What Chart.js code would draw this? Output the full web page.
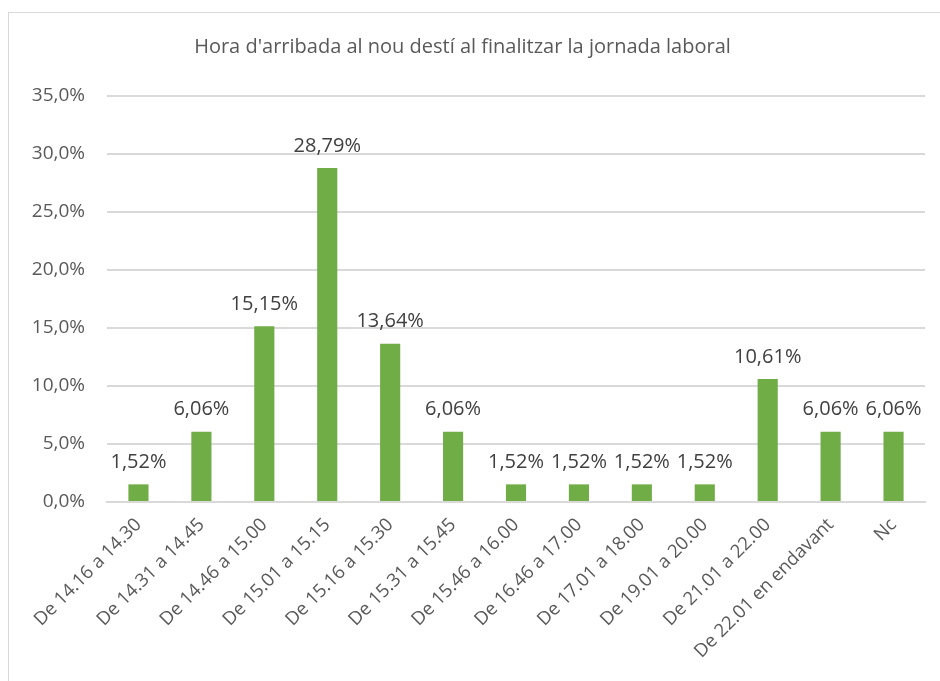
<!DOCTYPE html>
<html>
<head>
<meta charset="utf-8">
<script src="https://cdn.jsdelivr.net/npm/chart.js@4"></script>
<style>
  html, body { margin: 0; padding: 0; background: #fff; overflow: hidden; }
  #frame { position: absolute; left: 8px; top: 12px; width: 1000px; height: 800px; border: 1px solid #d9d9d9; }
  #wrap { position: absolute; left: 0; top: 0; width: 940px; height: 681px; }
</style>
</head>
<body>
<div id="frame"></div>
<div id="wrap"><canvas id="grafic"></canvas></div>
<script>
// Dades
const categories = ['De 14.16 a 14.30', 'De 14.31 a 14.45', 'De 14.46 a 15.00', 'De 15.01 a 15.15',
    'De 15.16 a 15.30', 'De 15.31 a 15.45', 'De 15.46 a 16.00', 'De 16.46 a 17.00', 'De 17.01 a 18.00',
    'De 19.01 a 20.00', 'De 21.01 a 22.00', 'De 22.01 en endavant', 'Nc'];
const percentatges = [1.52, 6.06, 15.15, 28.79, 13.64, 6.06, 1.52, 1.52, 1.52, 1.52, 10.61, 6.06, 6.06];
const titol = "Hora d'arribada al nou destí al finalitzar la jornada laboral";

const FONT = "'Open Sans', sans-serif";
const GRIS = '#595959';

// etiquetes de dades a sobre de cada barra
const etiquetesBarres = {
    id: 'etiquetesBarres',
    afterDatasetsDraw(chart) {
        const ctx = chart.ctx;
        const meta = chart.getDatasetMeta(0);
        ctx.save();
        ctx.font = '20px ' + FONT;
        ctx.fillStyle = '#404040';
        ctx.textAlign = 'center';
        ctx.textBaseline = 'bottom';
        meta.data.forEach(function (bar, i) {
            const txt = percentatges[i].toFixed(2).replace('.', ',') + '%';
            ctx.fillText(txt, bar.x, bar.y - 12);
        });
        ctx.restore();
    }
};

const ctx = document.getElementById('grafic').getContext('2d');
new Chart(ctx, {
    type: 'bar',
    data: {
        labels: categories,
        datasets: [{
            data: percentatges,
            backgroundColor: '#70ad47',
            categoryPercentage: 1,
            barPercentage: 0.32
        }]
    },
    options: {
        responsive: true,
        maintainAspectRatio: false,
        animation: false,
        layout: { padding: { left: 0, right: 15, top: 0, bottom: 0 } },
        plugins: {
            legend: { display: false },
            tooltip: { enabled: false },
            title: {
                display: true,
                text: titol,
                color: GRIS,
                font: { family: FONT, size: 20, weight: 'normal' },
                padding: { top: 35, bottom: 37 }
            }
        },
        scales: {
            x: {
                grid: { display: false },
                border: { display: true, color: '#d9d9d9', width: 2 },
                ticks: {
                    color: GRIS,
                    font: { family: FONT, size: 18.5 },
                    minRotation: 45,
                    maxRotation: 45,
                    autoSkip: false,
                    padding: 4
                },
                afterFit(scale) { scale.height = 179; }
            },
            y: {
                min: 0,
                max: 35,
                grid: { color: '#d9d9d9', lineWidth: 2, drawTicks: false },
                border: { display: false },
                ticks: {
                    stepSize: 5,
                    color: GRIS,
                    font: { family: FONT, size: 19 },
                    padding: 22,
                    callback: function (v) { return v.toFixed(1).replace('.', ',') + '%'; }
                },
                afterFit(scale) { scale.width = 107; }
            }
        }
    },
    plugins: [etiquetesBarres]
});
</script>
</body>
</html>
